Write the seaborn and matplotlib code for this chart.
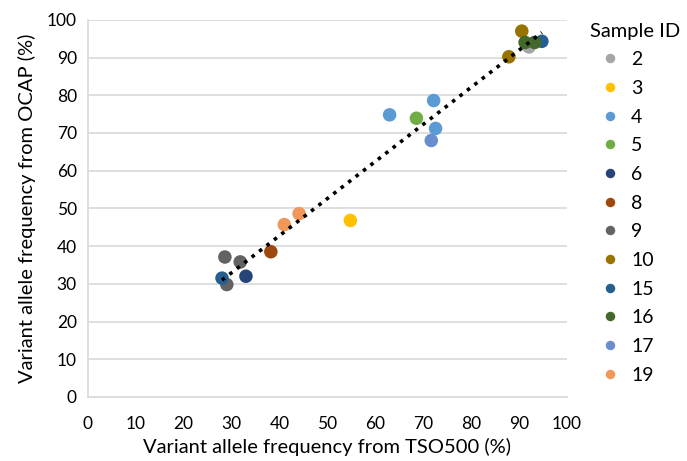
import pandas as pd
import matplotlib.pyplot as plt
import seaborn as sns

# values
sample_ids = ["2", "3", "4", "4", "4", "5", "6", "8", "9", "9", "9",
              "10", "10", "15", "15", "16", "16", "17", "19", "19"]
tso500 = [92.1, 54.8, 63.0, 72.2, 72.6, 68.6, 33.0, 38.2, 28.6, 31.8, 29.0,
          90.6, 87.9, 28.0, 94.8, 91.3, 93.3, 71.7, 41.0, 44.1]
ocap = [92.8, 46.8, 74.8, 78.6, 71.2, 73.9, 32.0, 38.5, 37.1, 35.8, 29.8,
        97.0, 90.2, 31.5, 94.3, 94.0, 94.0, 68.0, 45.7, 48.6]

legend_order = ["2", "3", "4", "5", "6", "8", "9", "10", "15", "16", "17", "19"]
colors = ["#A5A5A5", "#FFC000", "#5B9BD5", "#70AD47", "#264478", "#9E480E",
          "#636363", "#997300", "#255E91", "#43682B", "#698ED0", "#F1975A"]

df = pd.DataFrame({"Sample ID": sample_ids, "TSO500": tso500, "OCAP": ocap})

sns.set_theme(style="white")
plt.rcParams["font.family"] = ["Lato", "DejaVu Sans"]
plt.rcParams["text.color"] = "black"
plt.rcParams["axes.labelcolor"] = "black"

fig = plt.figure(figsize=(6.87, 4.61), dpi=100)
ax = fig.add_axes([0.128, 0.139, 0.697, 0.818])

sns.scatterplot(data=df, x="TSO500", y="OCAP", hue="Sample ID",
                hue_order=legend_order, palette=dict(zip(legend_order, colors)),
                s=95, linewidth=0, ax=ax, zorder=3)
sns.regplot(data=df, x="TSO500", y="OCAP", scatter=False, ci=None, ax=ax,
            line_kws={"color": "black", "linestyle": (0, (1, 1.6)), "linewidth": 2.6,
                      "zorder": 4})

ax.set_xlim(0, 100)
ax.set_ylim(0, 100)
ax.set_xticks(range(0, 101, 10))
ax.set_yticks(range(0, 101, 10))
ax.yaxis.grid(True, color="#D9D9D9", linewidth=1.2)
ax.xaxis.grid(False)
for side in ["top", "right"]:
    ax.spines[side].set_visible(False)
for side in ["left", "bottom"]:
    ax.spines[side].set_color("#D9D9D9")
    ax.spines[side].set_linewidth(1.2)
ax.tick_params(axis="both", length=0, labelsize=12.5, colors="black")
ax.tick_params(axis="x", pad=14)
ax.tick_params(axis="y", pad=8)
ax.set_xlabel("Variant allele frequency from TSO500 (%)", fontsize=14.5, labelpad=4)
ax.set_ylabel("Variant allele frequency from OCAP (%)", fontsize=14.5, labelpad=8)

handles, labels = ax.get_legend_handles_labels()
ax.legend(handles, labels, title="Sample ID", loc="upper left",
          bbox_to_anchor=(0.848, 0.968), bbox_transform=fig.transFigure,
          frameon=False, fontsize=14, title_fontsize=14.5, markerscale=0.7,
          handletextpad=0.1, labelspacing=0.6, borderaxespad=0, alignment="left")

plt.savefig("out.png", dpi=100)
plt.close()
